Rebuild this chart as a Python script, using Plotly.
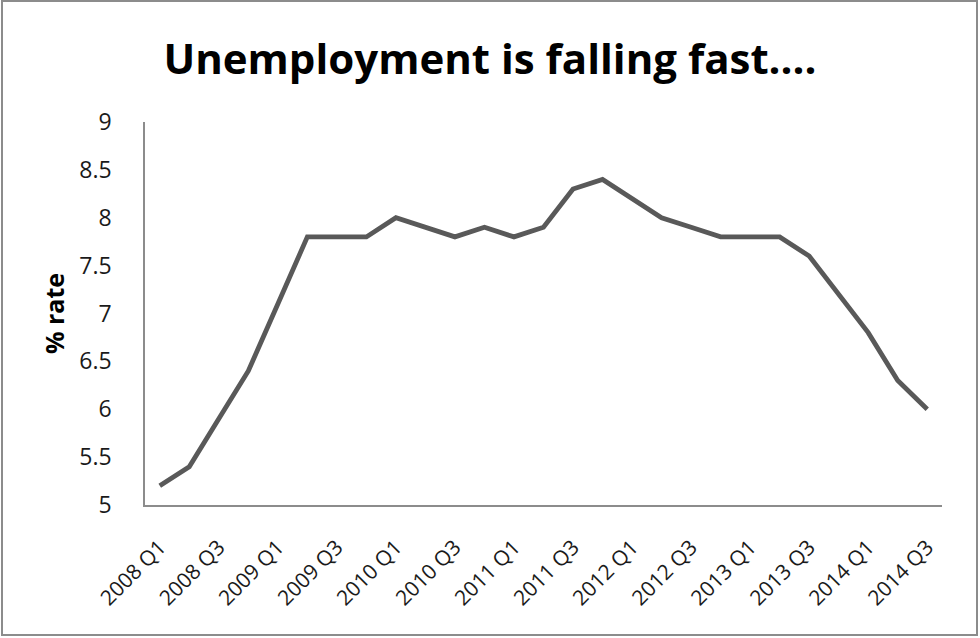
import plotly.graph_objects as go

quarters = [
    "2008 Q1", "2008 Q2", "2008 Q3", "2008 Q4",
    "2009 Q1", "2009 Q2", "2009 Q3", "2009 Q4",
    "2010 Q1", "2010 Q2", "2010 Q3", "2010 Q4",
    "2011 Q1", "2011 Q2", "2011 Q3", "2011 Q4",
    "2012 Q1", "2012 Q2", "2012 Q3", "2012 Q4",
    "2013 Q1", "2013 Q2", "2013 Q3", "2013 Q4",
    "2014 Q1", "2014 Q2", "2014 Q3",
]
rate = [
    5.2, 5.4, 5.9, 6.4,
    7.1, 7.8, 7.8, 7.8,
    8.0, 7.9, 7.8, 7.9,
    7.8, 7.9, 8.3, 8.4,
    8.2, 8.0, 7.9, 7.8,
    7.8, 7.8, 7.6, 7.2,
    6.8, 6.3, 6.0,
]
x_ticks = quarters[::2]
y_ticks = [5, 5.5, 6, 6.5, 7, 7.5, 8, 8.5, 9]
y_tick_labels = ["5", "5.5", "6", "6.5", "7", "7.5", "8", "8.5", "9"]

fig = go.Figure()
fig.add_trace(go.Scatter(
    x=quarters, y=rate, mode="lines",
    line=dict(color="#595959", width=4.8),
    showlegend=False, hoverinfo="x+y",
))

W, H = 980, 638
L, R, T, B = 145, 38, 122, 133
pw, ph = W - L - R, H - T - B

fig.update_layout(
    width=W, height=H,
    margin=dict(l=L, r=R, t=T, b=B),
    paper_bgcolor="white", plot_bgcolor="white",
    title=dict(
        text="<b>Unemployment is falling fast....</b>",
        x=0.5, xanchor="center", xref="container",
        y=1 - 59 / H, yanchor="middle", yref="container",
        font=dict(family="Open Sans", size=42, color="black"),
    ),
    font=dict(family="Open Sans", size=22, color="#1a1a1a"),
    xaxis=dict(
        type="category", range=[-0.5, 26.5],
        tickmode="array", tickvals=x_ticks, ticktext=x_ticks,
        tickangle=-45, showgrid=False, zeroline=False,
        showline=True, linecolor="#8c8c8c", linewidth=1.5,
        ticks="", ticklabelstandoff=20,
        tickfont=dict(family="Open Sans", size=21, color="#1a1a1a"),
    ),
    yaxis=dict(
        range=[5, 9], tickmode="array", tickvals=y_ticks, ticktext=y_tick_labels,
        showgrid=False, zeroline=False,
        showline=True, linecolor="#8c8c8c", linewidth=1.5,
        ticks="", ticklabelstandoff=27,
        tickfont=dict(family="Open Sans", size=23, color="#1a1a1a"),
        title=dict(text="<b>% rate</b>", font=dict(family="Open Sans", size=25, color="black"), standoff=8),
    ),
    shapes=[dict(
        type="rect", xref="paper", yref="paper",
        x0=(2 - L) / pw, x1=(W - 3 - L) / pw,
        y0=-(H - 3 - (H - B)) / ph, y1=1 + (T - 1) / ph,
        line=dict(color="#8c8c8c", width=2), fillcolor="rgba(0,0,0,0)",
    )],
)

fig.write_html(
    "out.html",
    config={"displayModeBar": False},
    post_script="document.body.style.margin='0';",
)
